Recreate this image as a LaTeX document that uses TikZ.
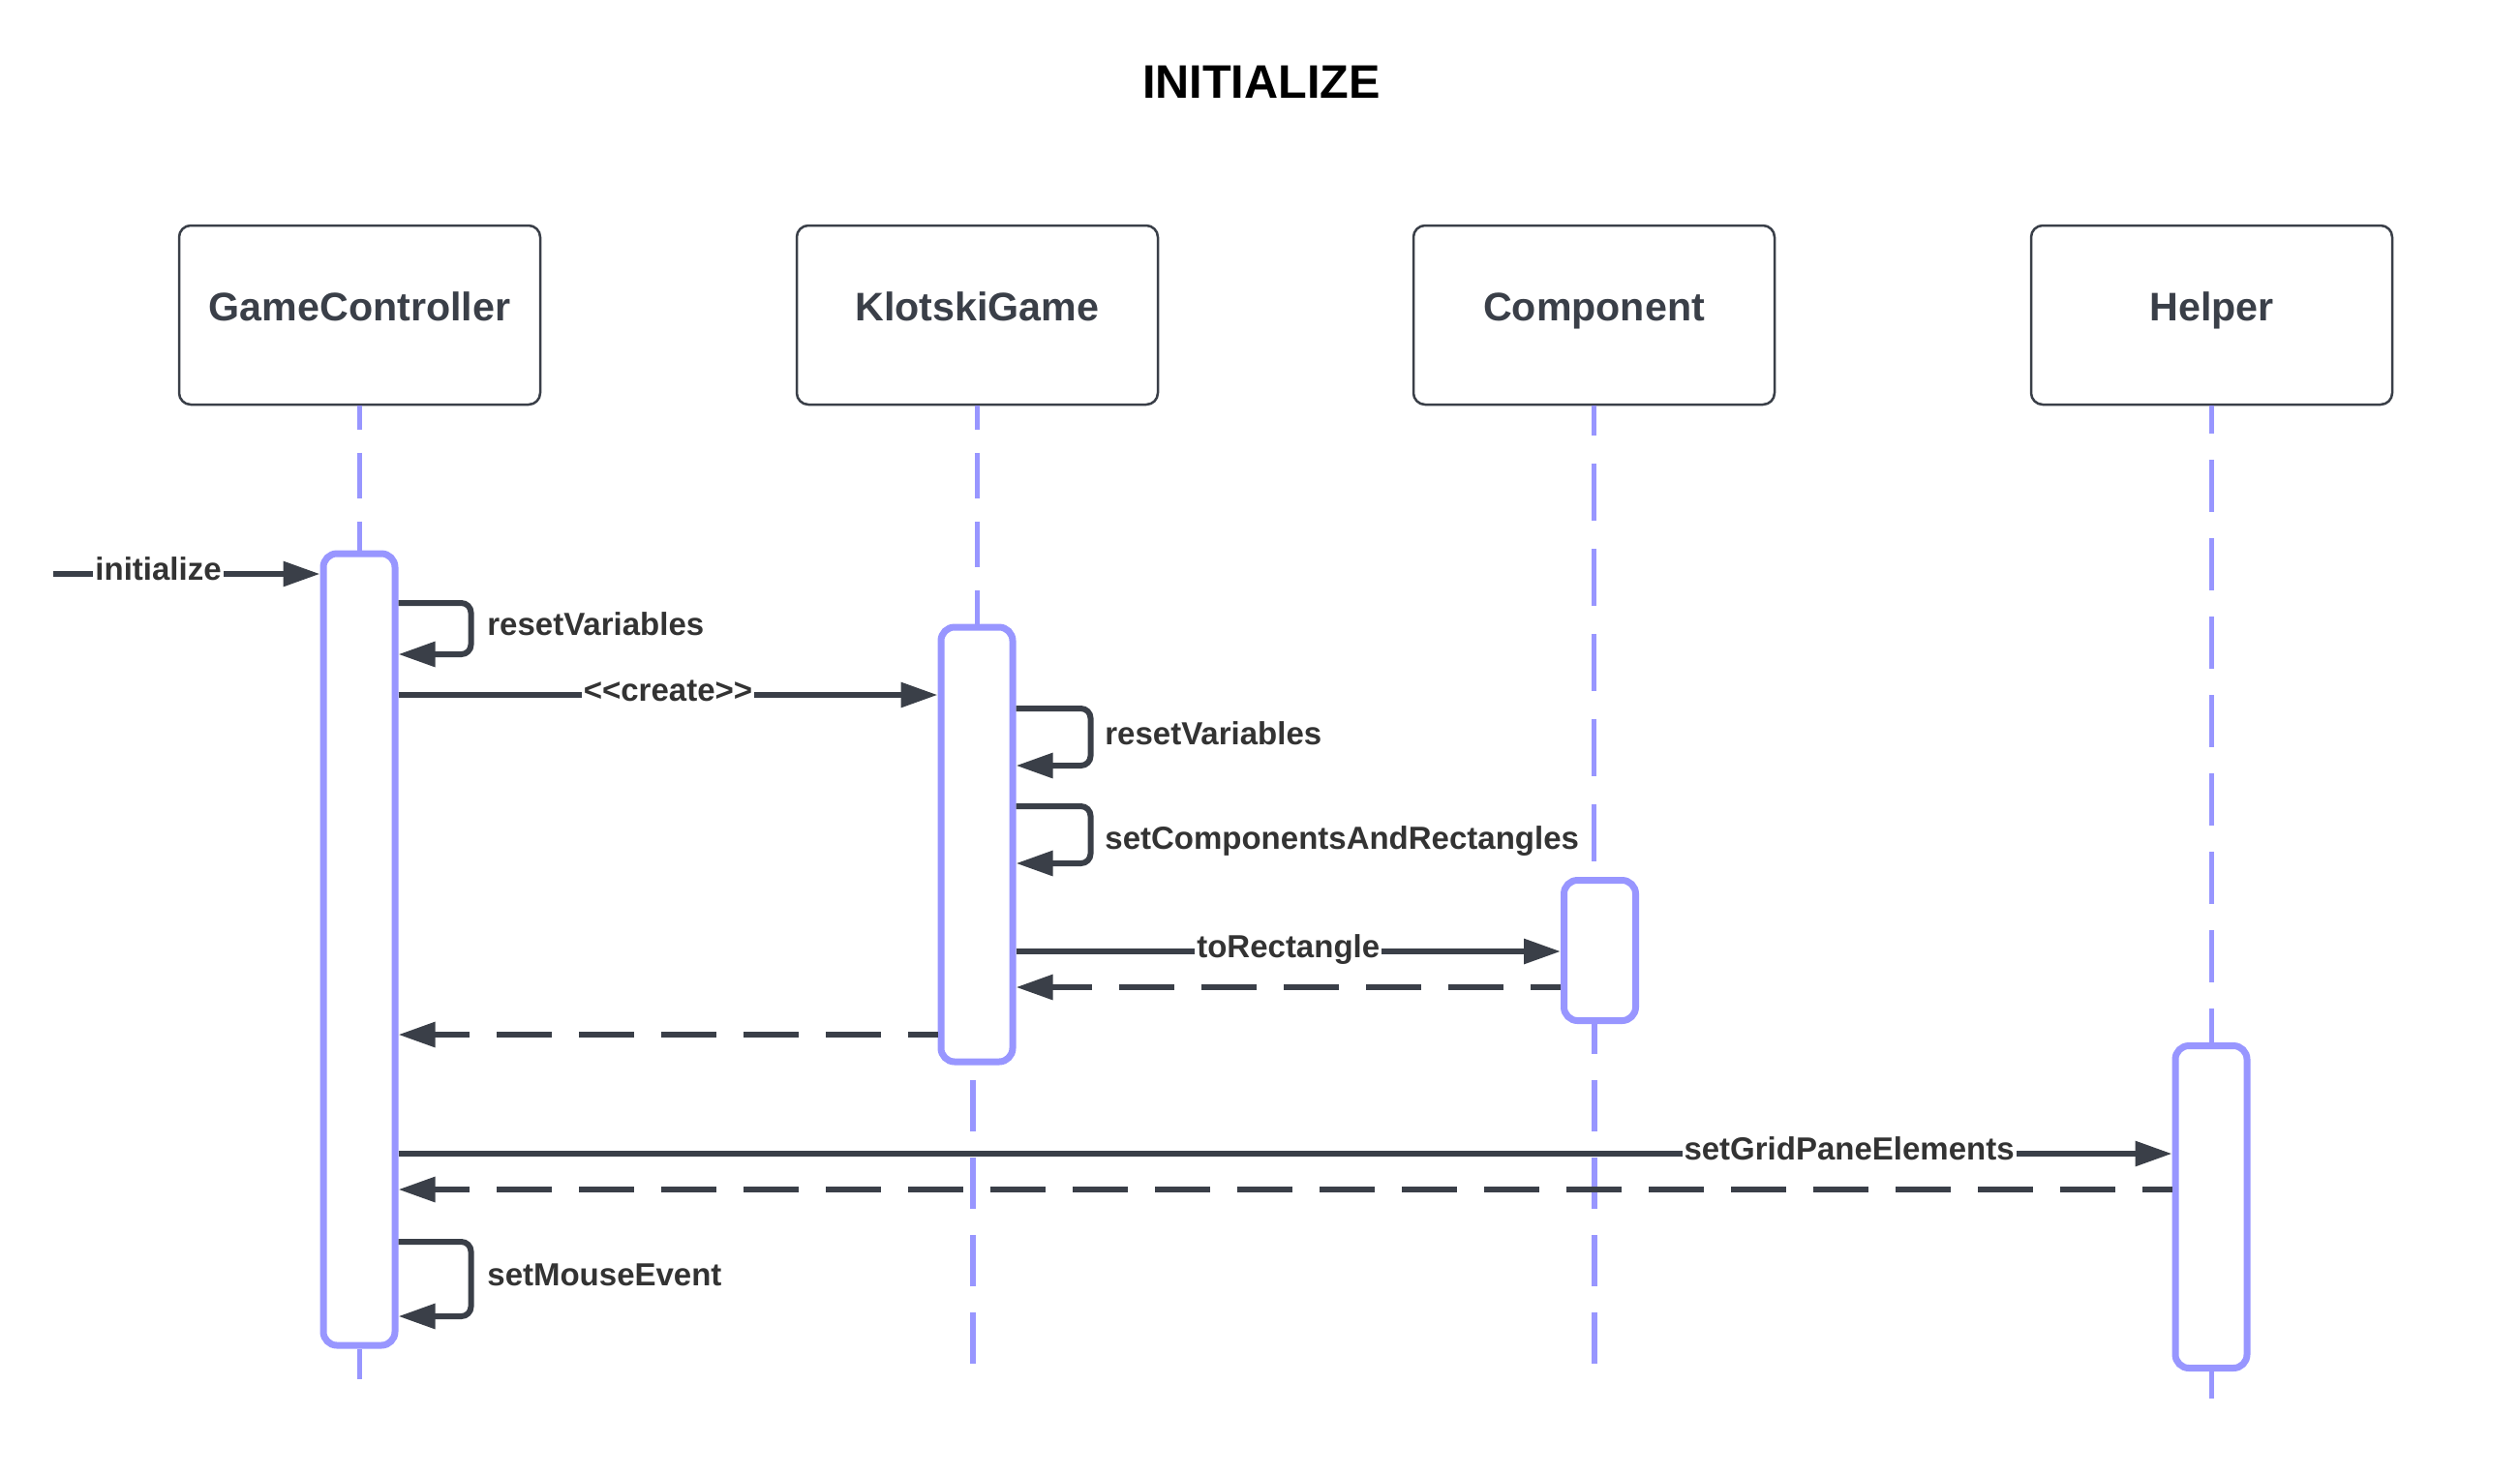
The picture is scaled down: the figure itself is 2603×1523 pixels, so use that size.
\documentclass[tikz,border=0pt]{standalone}
\usepackage{fontspec}
\setmainfont{Liberation Sans}
\usetikzlibrary{arrows.meta}
\definecolor{lav}{RGB}{152,150,255}
\definecolor{ink}{RGB}{58,63,72}
\definecolor{txt}{RGB}{51,51,51}
\begin{document}
\begin{tikzpicture}[x=0.5pt,y=-0.5pt,
 participant/.style={draw=ink, line width=1.25pt, rounded corners=6pt, fill=white,
   minimum width=186.5pt, minimum height=92.5pt, inner sep=0pt,
   font=\fontsize{20.6}{24}\selectfont\bfseries, text=ink, text height=0.72em, text depth=0.1em},
 lifeline/.style={draw=lav, line width=2.6pt},
 upA/.style={lifeline, dash pattern=on 23.75pt off 11.75pt, dash phase=11.25pt},
 upC/.style={lifeline, dash pattern=on 29.5pt off 14.5pt, dash phase=14pt},
 upH/.style={lifeline, dash pattern=on 27pt off 13.5pt, dash phase=12.5pt},
 lowL/.style={lifeline, dash pattern=on 26.5pt off 13.5pt},
 activation/.style={draw=lav, line width=3.5pt, rounded corners=7pt, fill=white,
   minimum width=37pt, inner sep=0pt},
 msg/.style={draw=ink, line width=3pt, -{Triangle[length=19pt,width=12.5pt]}},
 reply/.style={msg, dash pattern=on 28.5pt off 14pt, dash phase=13pt},
 lbl/.style={fill=white, inner sep=1pt, text=txt, text height=0.75em, text depth=0.1em,
   font=\fontsize{16.5}{20}\selectfont\bfseries},
 selflbl/.style={anchor=west, inner sep=0pt, text=txt, text height=0.72em, text depth=0pt,
   font=\fontsize{16.5}{20}\selectfont\bfseries}
]
\path[use as bounding box] (0,0) rectangle (2603,1523);

\node[font=\fontsize{24.3}{28}\selectfont\bfseries, text=black] (title) at (1303,85) {INITIALIZE};

% participants
\node[participant] (gc) at (371.5,325.5) {GameController};
\node[participant] (kg) at (1009.5,325.5) {KlotskiGame};
\node[participant] (cp) at (1646.5,325.5) {Component};
\node[participant] (hp) at (2284.5,325.5) {Helper};

% activations
\node[activation, minimum height=409pt] (gcA) at (371,981) {};
\node[activation, minimum height=224.5pt] (kgA) at (1009,872.5) {};
\node[activation, minimum height=72.5pt] (cpA) at (1652.5,982) {};
\node[activation, minimum height=166.5pt] (hpA) at (2284,1247) {};

% lifeline ends
\coordinate (gcEnd) at (371.5,1425);
\coordinate (kgEnd) at (1005,1409);
\coordinate (cpEnd) at (1647,1409);
\coordinate (hpEnd) at (2284.5,1445);

% lifelines
\draw[upA] (gc.south) -- (gc.south |- gcA.north);
\draw[upA] (kg.south) -- (kg.south |- kgA.north);
\draw[upC] (cp.south) -- (cp.south |- cpA.north);
\draw[upH] (hp.south) -- (hp.south |- hpA.north);
\draw[lowL] (gcEnd) -- (gcEnd |- gcA.south);
\draw[lowL] (kgEnd) -- (kgEnd |- kgA.south);
\draw[lowL] (cpEnd) -- (cpEnd |- cpA.south);
\draw[lowL] (hpEnd) -- (hpEnd |- hpA.south);

% message levels
\coordinate (initStart) at (55,593);
\coordinate (yR1a) at (0,623);
\coordinate (yR1b) at (0,676);
\coordinate (yCreate) at (0,718);
\coordinate (yR2a) at (0,732);
\coordinate (yR2b) at (0,791);
\coordinate (yS1a) at (0,833);
\coordinate (yS1b) at (0,892);
\coordinate (yToR) at (0,983);
\coordinate (yRet1) at (0,1020);
\coordinate (yRet2) at (0,1069);
\coordinate (yGrid) at (0,1192);
\coordinate (yRet3) at (0,1229);
\coordinate (yM1a) at (0,1283);
\coordinate (yM1b) at (0,1360);

% messages
\draw[msg] (initStart) -- (gcA.west |- initStart)
  node[lbl, pos=0.394] {initialize};

\draw[msg, rounded corners=5pt] (gcA.east |- yR1a) -- ++(75,0) |- (gcA.east |- yR1b);
\node[selflbl] (lR1) at (503,649) {resetVariables};

\draw[msg] (gcA.east |- yCreate) -- (kgA.west |- yCreate)
  node[lbl, pos=0.5] {<\kern0pt<create>\kern0pt>};

\draw[msg, rounded corners=5pt] (kgA.east |- yR2a) -- ++(77,0) |- (kgA.east |- yR2b);
\node[selflbl] (lR2) at (1141,762) {resetVariables};

\draw[msg, rounded corners=5pt] (kgA.east |- yS1a) -- ++(77,0) |- (kgA.east |- yS1b);
\node[selflbl] (lS1) at (1141,870) {setComponentsAndRectangles};

\draw[msg] (kgA.east |- yToR) -- (cpA.west |- yToR)
  node[lbl, pos=0.5] {toRectangle};

\draw[reply] (cpA.west |- yRet1) -- (kgA.east |- yRet1);
\draw[reply] (kgA.west |- yRet2) -- (gcA.east |- yRet2);

\draw[msg] (gcA.east |- yGrid) -- (hpA.west |- yGrid)
  node[lbl, pos=0.818] {setGridPaneElements};

\draw[reply] (hpA.west |- yRet3) -- (gcA.east |- yRet3);

\draw[msg, rounded corners=5pt] (gcA.east |- yM1a) -- ++(75,0) |- (gcA.east |- yM1b);
\node[selflbl] (lM1) at (503,1321) {setMouseEvent};
\end{tikzpicture}
\end{document}
